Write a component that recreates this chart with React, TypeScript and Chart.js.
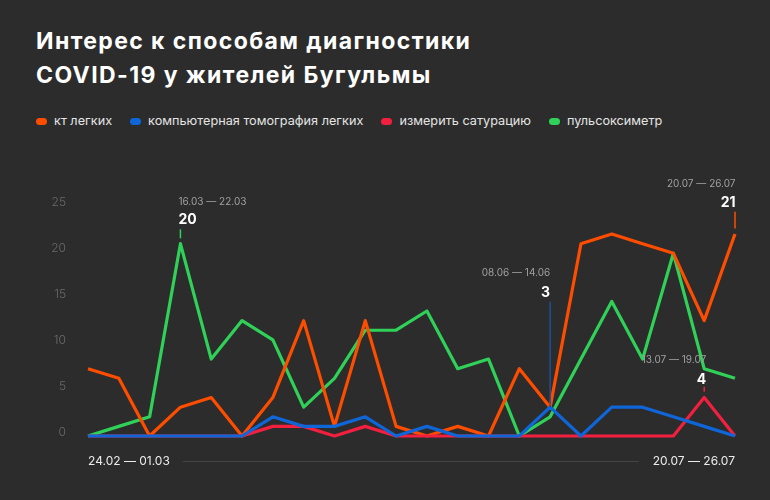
import { useEffect, useRef } from 'react';
import { Chart, registerables } from 'chart.js';

Chart.register(...registerables);

// ---------- data ----------
const weeks = [
  '24.02 — 01.03', '02.03 — 08.03', '09.03 — 15.03', '16.03 — 22.03',
  '23.03 — 29.03', '30.03 — 05.04', '06.04 — 12.04', '13.04 — 19.04',
  '20.04 — 26.04', '27.04 — 03.05', '04.05 — 10.05', '11.05 — 17.05',
  '18.05 — 24.05', '25.05 — 31.05', '01.06 — 07.06', '08.06 — 14.06',
  '15.06 — 21.06', '22.06 — 28.06', '29.06 — 05.07', '06.07 — 12.07',
  '13.07 — 19.07', '20.07 — 26.07',
];

const seriesNames = ['кт легких', 'компьютерная томография легких', 'измерить сатурацию', 'пульсоксиметр'];

const ktLungs = [7, 6, 0, 3, 4, 0, 4, 12, 1, 12, 1, 0, 1, 0, 7, 3, 20, 21, 20, 19, 12, 21];
const ctScan = [0, 0, 0, 0, 0, 0, 2, 1, 1, 2, 0, 1, 0, 0, 0, 3, 0, 3, 3, 2, 1, 0];
const saturation = [0, 0, 0, 0, 0, 0, 1, 1, 0, 1, 0, 0, 0, 0, 0, 0, 0, 0, 0, 0, 4, 0];
const oximeter = [0, 1, 2, 20, 8, 12, 10, 3, 6, 11, 11, 13, 7, 8, 0, 2, 8, 14, 8, 19, 7, 6];

const yTickLabels = ['0', '5', '10', '15', '20', '25'];

// annotated points: week index + series index
const annIndex = [3, 15, 21, 20];
const annSeries = [3, 1, 0, 2];

// ---------- styles ----------
const colors = ['#ff4d00', '#0f66d8', '#f2203e', '#30d158'];
const bg = '#2c2c2c';
const FONT = "Inter, 'Open Sans', 'DejaVu Sans', sans-serif";

const annLayout = [
  { align: 'left', dx: -2, dateDy: -42, valueDy: -23.7, lineFrom: -14.4, lineTo: -5.4, lineColor: '' },
  { align: 'right', dx: 0, dateDy: -134, valueDy: -114.5, lineFrom: -105.5, lineTo: 0, lineColor: '#1e4f9c' },
  { align: 'right', dx: 0.5, dateDy: -50, valueDy: -31.7, lineFrom: -22.3, lineTo: -5.7, lineColor: '' },
  { align: 'right', dx: 2, dateDy: -37.5, valueDy: -18.2, lineFrom: -10.8, lineTo: -5.8, lineColor: '' },
];

const annotationPlugin = {
  id: 'annotations',
  afterDatasetsDraw(chart: any) {
    const { ctx, scales, chartArea } = chart;
    const x = scales.x;
    const y = scales.y;
    ctx.save();
    annIndex.forEach((idx, k) => {
      const si = annSeries[k];
      const ds = chart.data.datasets[si];
      const v = ds.data[idx];
      const px = x.getPixelForValue(idx);
      const py = y.getPixelForValue(v);
      const L = annLayout[k];
      ctx.textAlign = L.align;
      ctx.textBaseline = 'middle';
      ctx.font = `400 10px ${FONT}`;
      ctx.fillStyle = '#a0a0a0';
      ctx.fillText(weeks[idx], px + L.dx, py + L.dateDy);
      ctx.font = `700 14px ${FONT}`;
      ctx.fillStyle = '#ffffff';
      ctx.fillText(String(v), px + L.dx, py + L.valueDy);
      ctx.strokeStyle = L.lineColor || colors[si];
      ctx.lineWidth = 1.5;
      ctx.beginPath();
      ctx.moveTo(px, py + L.lineFrom);
      ctx.lineTo(px, py + L.lineTo);
      ctx.stroke();
    });
    // separator between the two x labels
    ctx.font = `400 12px ${FONT}`;
    const w0 = ctx.measureText(weeks[0]).width;
    const w1 = ctx.measureText(weeks[weeks.length - 1]).width;
    const ly = Math.round(chartArea.bottom + 25) + 0.5;
    ctx.strokeStyle = '#444444';
    ctx.lineWidth = 1;
    ctx.beginPath();
    ctx.moveTo(chartArea.left + w0 + 13, ly);
    ctx.lineTo(chartArea.right - w1 - 14, ly);
    ctx.stroke();
    ctx.restore();
  },
};

function Legend() {
  return (
    <div
      style={{
        position: 'absolute',
        left: 36,
        top: 113,
        display: 'flex',
        alignItems: 'center',
        font: `400 12.7px ${FONT}`,
        lineHeight: '16px',
        color: '#e4e4e4',
        whiteSpace: 'nowrap',
      }}
    >
      {seriesNames.map((n, i) => (
        <div key={n} style={{ display: 'flex', alignItems: 'center', marginRight: 18 }}>
          <span
            style={{
              display: 'inline-block',
              width: 11,
              height: 7,
              borderRadius: 4,
              background: colors[i],
              marginRight: 7,
            }}
          />
          <span>{n}</span>
        </div>
      ))}
    </div>
  );
}

export default function App() {
  const canvasRef = useRef<HTMLCanvasElement | null>(null);

  useEffect(() => {
    const canvas = canvasRef.current;
    if (!canvas) return;
    const series = [ktLungs, ctScan, saturation, oximeter];
    const drawOrder = [2, 0, 1, 3];
    const chart = new Chart(canvas, {
      type: 'line',
      data: {
        labels: weeks,
        datasets: series.map((d, i) => ({
          label: seriesNames[i],
          data: d,
          borderColor: colors[i],
          backgroundColor: colors[i],
          borderWidth: 3.2,
          pointRadius: 0,
          pointHoverRadius: 0,
          tension: 0,
          borderJoinStyle: 'round' as const,
          clip: false as any,
          order: drawOrder[i],
        })),
      },
      options: {
        animation: false,
        responsive: false,
        maintainAspectRatio: false,
        events: [],
        layout: { padding: { top: 186, right: 35, bottom: 24, left: 0 } },
        plugins: {
          legend: { display: false },
          title: { display: false },
          tooltip: { enabled: false },
        },
        scales: {
          x: {
            type: 'category',
            offset: false,
            grid: { display: false, drawTicks: false },
            border: { display: false },
            afterFit: (scale: any) => {
              scale.height = 40;
            },
            ticks: {
              align: 'inner',
              autoSkip: false,
              maxRotation: 0,
              minRotation: 0,
              padding: 18,
              color: '#ececec',
              font: { family: FONT, size: 12, weight: '400' },
              callback: (_v: any, i: number) =>
                i === 0 || i === weeks.length - 1 ? weeks[i] : null,
            },
          },
          y: {
            type: 'linear',
            min: 0,
            max: 26,
            grid: { display: false, drawTicks: false },
            border: { display: false },
            afterFit: (scale: any) => {
              scale.width = 88;
            },
            afterBuildTicks: (scale: any) => {
              scale.ticks = yTickLabels.map((_l, k) => ({ value: 0.343 + 4.784 * k }));
            },
            ticks: {
              padding: 22,
              color: '#6a6a6a',
              font: { family: FONT, size: 12, weight: '300' },
              callback: (_v: any, i: number) => yTickLabels[i],
            },
          },
        },
      },
      plugins: [annotationPlugin],
    } as any);
    return () => chart.destroy();
  }, []);

  return (
    <div
      style={{
        position: 'absolute',
        left: 0,
        top: 0,
        width: 770,
        height: 500,
        background: bg,
        overflow: 'hidden',
        fontFamily: FONT,
      }}
    >
      <div
        style={{
          position: 'absolute',
          left: 36,
          top: 24,
          font: `700 23px ${FONT}`,
          lineHeight: '34px',
          letterSpacing: '1.4px',
          color: '#ffffff',
          whiteSpace: 'nowrap',
        }}
      >
        Интерес к способам диагностики
        <br />
        COVID-19 у жителей Бугульмы
      </div>
      <Legend />
      <canvas
        ref={canvasRef}
        width={770}
        height={500}
        style={{ position: 'absolute', left: 0, top: 0, width: 770, height: 500 }}
      />
    </div>
  );
}
